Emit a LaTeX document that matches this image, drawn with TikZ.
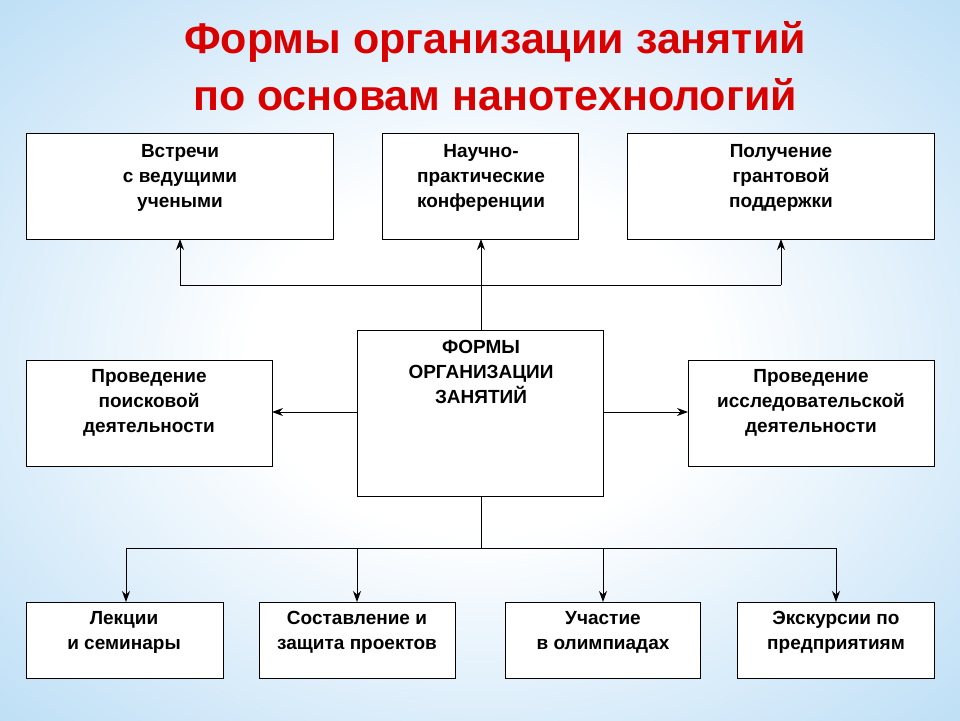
\documentclass[tikz,border=0pt]{standalone}
\usepackage{fontspec}
\setmainfont{Liberation Sans}
\usetikzlibrary{arrows.meta}
\pgfdeclareradialshading{bgsh}{\pgfpoint{0bp}{0bp}}{color(0bp)=(white); color(12bp)=(white); color(30bp)=(rgb,255:red,205;green,230;blue,248); color(50bp)=(rgb,255:red,150;green,205;blue,240)}
\begin{document}
\begin{tikzpicture}[x=1pt,y=-1pt,
  box/.style={draw=black,fill=white,line width=0.8pt},
  txt/.style={anchor=north,align=center,font=\fontsize{19}{25}\selectfont\bfseries},
  ln/.style={line width=0.9pt},
  ar/.style={line width=0.9pt,-{Stealth[length=11pt,width=8pt]}}]
\useasboundingbox (0,0) rectangle (960,720);
\shade[shading=bgsh] (0,0) rectangle (960,720);
\node[font=\fontsize{43}{57}\selectfont\bfseries,text=red!85!black,align=center] (title) at (495,66) {Формы организации занятий\\по основам нанотехнологий};
% boxes
\draw[box] (26,133) rectangle (333,239); \coordinate (t1) at (180,239);
\draw[box] (382,133) rectangle (578,239); \coordinate (t2) at (481,239);
\draw[box] (627,133) rectangle (934,239); \coordinate (t3) at (781,239);
\draw[box] (26,360) rectangle (272,466); \coordinate (ml) at (272,412);
\draw[box] (357,330) rectangle (603,496);
\draw[box] (688,360) rectangle (934,466); \coordinate (mr) at (688,412);
\draw[box] (26,602) rectangle (223,678); \coordinate (b1) at (126,602);
\draw[box] (259,602) rectangle (455,678); \coordinate (b2) at (357,602);
\draw[box] (505,602) rectangle (700,678); \coordinate (b3) at (603,602);
\draw[box] (737,602) rectangle (934,678); \coordinate (b4) at (836,602);
% texts
\node[txt] (n1) at (180,141) {Встречи\\с ведущими\\учеными};
\node[txt] (n2) at (481,141) {Научно-\\практические\\конференции};
\node[txt] (n3) at (781,141) {Получение\\грантовой\\поддержки};
\node[txt] (n4) at (149,366) {Проведение\\поисковой\\деятельности};
\node[txt] (c) at (481,337) {ФОРМЫ\\ОРГАНИЗАЦИИ\\ЗАНЯТИЙ};
\node[txt] (n5) at (811,366) {Проведение\\исследовательской\\деятельности};
\node[txt] (n6) at (124,608) {Лекции\\и семинары};
\node[txt] (n7) at (357,608) {Составление и\\защита проектов};
\node[txt] (n8) at (603,608) {Участие\\в олимпиадах};
\node[txt] (n9) at (836,608) {Экскурсии по\\предприятиям};
% connectors
\coordinate (ct) at (481,330); \coordinate (cb) at (481,496);
\coordinate (cl) at (357,412); \coordinate (cr) at (603,412);
\coordinate (h1) at (180,285); \coordinate (h3) at (781,285);
\coordinate (hb) at (481,548);
\coordinate (g1) at (126,548); \coordinate (g2) at (357,548);
\coordinate (g3) at (603,548); \coordinate (g4) at (836,548);
\draw[ar] (ct) -- (t2);
\draw[ln] (h1) -- (h3);
\draw[ar] (h1) -- (t1);
\draw[ar] (h3) -- (t3);
\draw[ar] (cl) -- (ml);
\draw[ar] (cr) -- (mr);
\draw[ln] (cb) -- (hb);
\draw[ln] (g1) -- (g4);
\draw[ar] (g1) -- (b1);
\draw[ar] (g2) -- (b2);
\draw[ar] (g3) -- (b3);
\draw[ar] (g4) -- (b4);
\end{tikzpicture}
\end{document}
